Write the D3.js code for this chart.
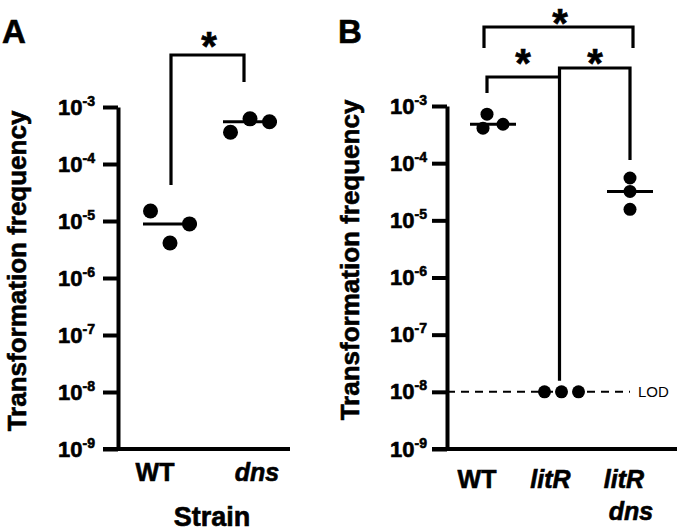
<!DOCTYPE html>
<html><head><meta charset="utf-8">
<script src="https://cdn.jsdelivr.net/npm/d3@7"></script>
<style>
body{margin:0;background:#fff;}
svg{display:block;font-family:"Liberation Sans",Arial,sans-serif;}
.heavy{stroke:#000;stroke-width:0.6px;paint-order:stroke;}
</style></head>
<body>
<svg id="c" width="680" height="532"></svg>
<script>
// ---------- data ----------
const tickExponents = [-3,-4,-5,-6,-7,-8,-9];
const catsA = ["WT","dns"];
const valsA_WT  = [1.5e-5, 8.9e-6, 4.1e-6];
const valsA_dns = [3.6e-4, 6.2e-4, 5.5e-4];
const catsB = ["WT","litR","litR dns"];
const valsB_WT   = [7.2e-4, 4.1e-4, 4.8e-4];
const valsB_litR = [1e-8, 1e-8, 1e-8];
const valsB_litRdns = [5.5e-5, 3.2e-5, 1.56e-5];
const LOD = 1e-8;
// horizontal spread slots for overlapping dots (layout)
const slotsA = [[-1,1,0],[-1,0,1]];
const slotsB = [[-0.3,-0.5,0.5],[-1,0,1],[0,0,0]];

const svg = d3.select("#c");
const BLACK = "#000";

function yAxis(g, y, pad){
  const ax = d3.axisLeft(y).tickValues(tickExponents.map(e=>Math.pow(10,e)))
    .tickSize(15).tickSizeOuter(0).tickPadding(pad).tickFormat(()=> "");
  g.call(ax);
  g.select(".domain").attr("stroke",BLACK).attr("stroke-width",4);
  g.selectAll(".tick line").attr("stroke",BLACK).attr("stroke-width",4);
  g.selectAll(".tick text").each(function(d){
    const t = d3.select(this).text(null).attr("fill",BLACK).attr("class","heavy")
      .attr("font-weight","bold").attr("font-size",22).attr("dy","0.32em");
    t.append("tspan").text("10");
    t.append("tspan").text(String(Math.round(Math.log10(d)))).attr("font-size",14).attr("dy",-9);
  });
}

function panel(cfg){
  const g = svg.append("g");
  const y = d3.scaleLog().domain([1e-9,1e-3]).range([cfg.yBottom, cfg.yTop]);
  const x = d3.scalePoint().domain(cfg.cats).range(cfg.xRange);
  const xl = d3.scalePoint().domain(cfg.cats).range(cfg.labelRange);

  // x axis line
  g.append("line").attr("x1",cfg.axisX-15).attr("x2",cfg.xEnd)
    .attr("y1",y(1e-9)).attr("y2",y(1e-9)).attr("stroke",BLACK).attr("stroke-width",4);
  const ga = g.append("g").attr("transform",`translate(${cfg.axisX},0)`);
  yAxis(ga, y, cfg.tickPad);

  if (cfg.lod){
    g.append("line").attr("x1",cfg.axisX).attr("x2",cfg.lodEnd)
      .attr("y1",y(LOD)).attr("y2",y(LOD)).attr("stroke",BLACK)
      .attr("stroke-width",2).attr("stroke-dasharray","8,6");
    g.append("text").attr("x",cfg.lodEnd+8).attr("y",y(LOD)).attr("dy","0.35em")
      .attr("font-size",15).text("LOD");
  }

  // medians + dots
  cfg.vals.forEach((vals,i)=>{
    const cx = x(cfg.cats[i]);
    const med = d3.median(vals);
    if (cfg.showMedian[i]){
      g.append("line").attr("x1",cx-cfg.medHalf).attr("x2",cx+cfg.medHalf)
        .attr("y1",y(med)).attr("y2",y(med)).attr("stroke",BLACK).attr("stroke-width",3);
    }
    g.selectAll(null).data(vals).join("circle")
      .attr("cx",(d,j)=>cx + cfg.slots[i][j]*cfg.slotStep[i])
      .attr("cy",d=>y(d)).attr("r",cfg.r).attr("fill",BLACK);
  });

  // category labels
  cfg.cats.forEach((c,i)=>{
    const parts = c.split(" ");
    const t = g.append("text").attr("class","heavy").attr("text-anchor","middle").attr("font-weight","bold")
      .attr("font-size",cfg.labelSize).attr("x",xl(c)).attr("y",cfg.labelY)
      .attr("font-style", c==="WT"?"normal":"italic");
    parts.forEach((p,k)=>{
      t.append("tspan").attr("x",xl(c)+ (k>0?cfg.secondLineShift:0)).attr("dy",k===0?0:32).text(p);
    });
  });

  // y title
  g.append("text").attr("class","heavy").attr("transform",`translate(${cfg.titleX},${cfg.titleY}) rotate(-90)`)
    .attr("text-anchor","middle").attr("font-weight","bold").attr("font-size",26)
    .text("Transformation frequency");

  // panel letter
  g.append("text").attr("class","heavy").attr("x",cfg.letterX).attr("y",43).attr("font-weight","bold")
    .attr("font-size",33).text(cfg.letter);
  return {g,x,y};
}

function bracket(g, x1, x2, yTop, y1b, y2b){
  g.append("path").attr("d",`M${x1},${y1b}V${yTop}H${x2}V${y2b}`)
    .attr("fill","none").attr("stroke",BLACK).attr("stroke-width",3.2);
}
function star(g, x, yb){
  g.append("text").attr("class","heavy").attr("x",x).attr("y",yb).attr("text-anchor","middle")
    .attr("font-weight","bold").attr("font-size",40).text("*");
}

// Panel A
const A = panel({
  letter:"A", letterX:2, cats:catsA, vals:[valsA_WT,valsA_dns],
  yTop:107, yBottom:449, axisX:118, xEnd:290, xRange:[170,250], labelRange:[155,257],
  labelY:481, labelSize:25, secondLineShift:0, tickPad:8, r:7.5, medHalf:27,
  slots:slotsA, slotStep:[19.5,19.5], showMedian:[true,true],
  titleX:26, titleY:271
});
A.g.append("text").attr("class","heavy").attr("x",212).attr("y",526).attr("text-anchor","middle")
  .attr("font-weight","bold").attr("font-size",27).text("Strain");
bracket(A.g, A.x("WT")+1, A.x("dns")-6, 55, 185, 82);
star(A.g, 209, 60);

// Panel B
const B = panel({
  letter:"B", letterX:338, cats:catsB, vals:[valsB_WT,valsB_litR,valsB_litRdns],
  yTop:106, yBottom:449, axisX:447, xEnd:677, xRange:[493,630], labelRange:[477,624],
  labelY:488, labelSize:25, secondLineShift:7, tickPad:5, r:6.5, medHalf:23,
  slots:slotsB, slotStep:[20,17,0], showMedian:[true,false,true], lod:true, lodEnd:630,
  titleX:359, titleY:260
});
bracket(B.g, B.x("WT")-9, B.x("litR dns")+3, 27, 48, 48);
bracket(B.g, B.x("WT")-6, B.x("litR")-2, 77, 93, 77);
bracket(B.g, B.x("litR")-2, B.x("litR dns"), 68, B.y(LOD)-11, 160);
star(B.g, 560, 37);
star(B.g, 523, 77);
star(B.g, 595, 77);
</script>
</body></html>
